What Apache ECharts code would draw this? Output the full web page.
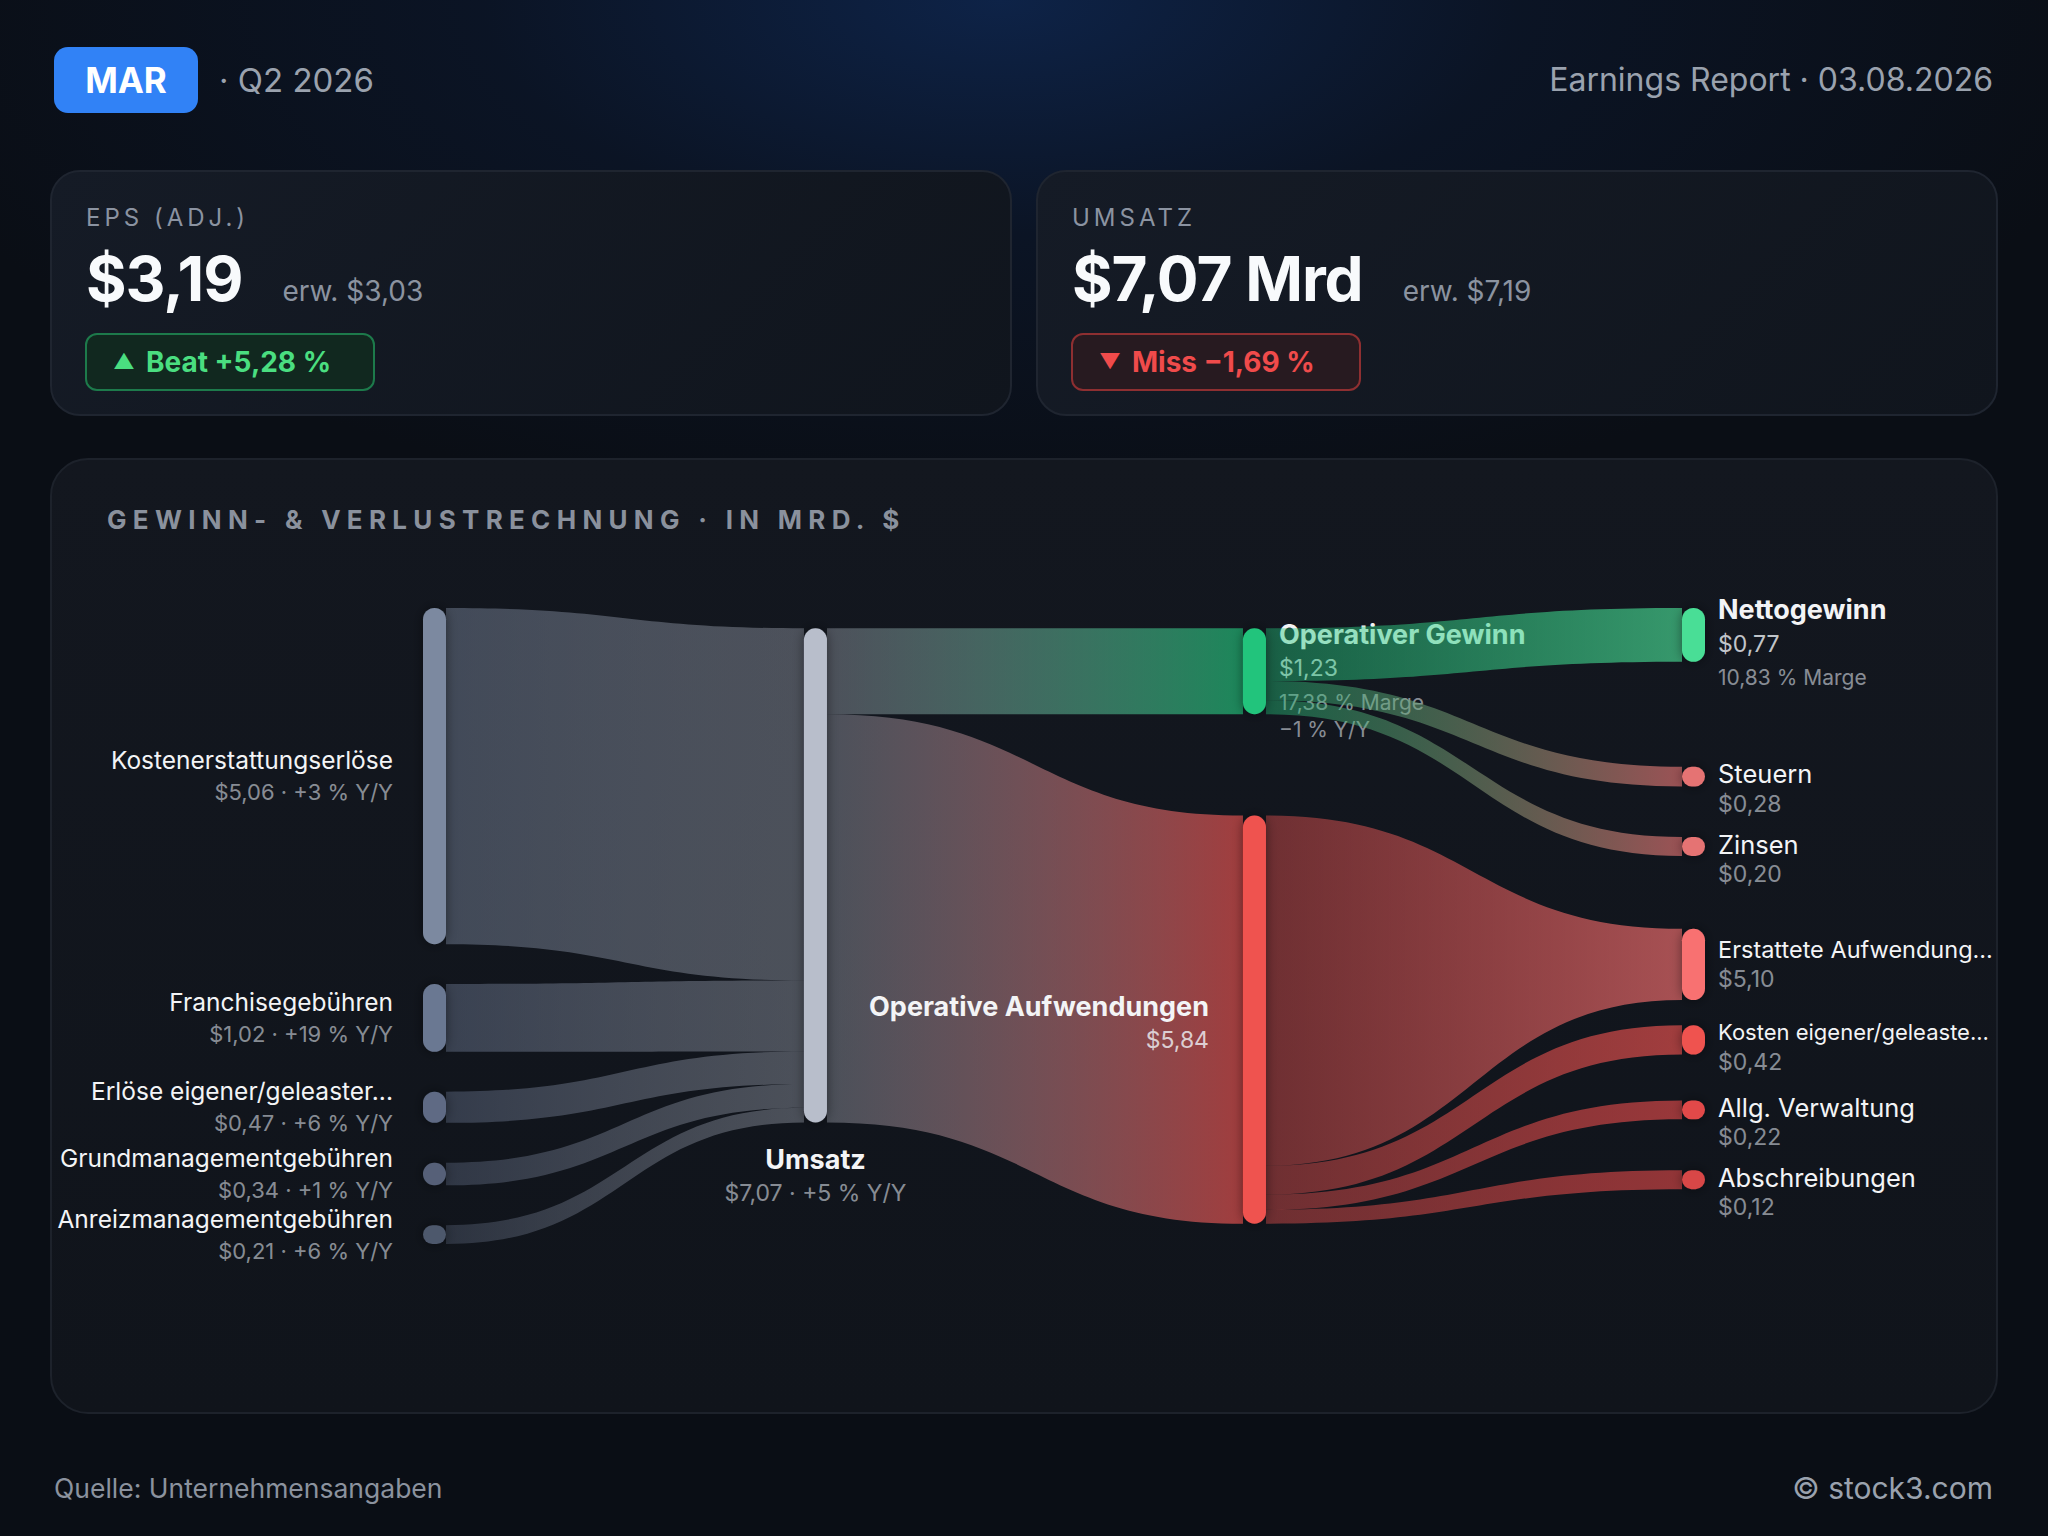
<!DOCTYPE html>
<html>
  <head>
    <meta charset="utf-8" />
    <title>MAR · Q2 2026 · GuV</title>
    <script src="https://cdn.jsdelivr.net/npm/echarts@6/dist/echarts.min.js"></script>
    <style type="text/css">
      html,
      body {
        margin: 0;
        padding: 0;
        width: 2048px;
        height: 1536px;
        overflow: hidden;
      }
      body {
        position: relative;
        font-family: Inter, "Noto Sans", "DejaVu Sans", sans-serif;
        background: radial-gradient(ellipse 1150px 520px at 1000px 0px, rgba(14, 36, 74, 0.95) 0%, rgba(12, 26, 52, 0.5) 45%, rgba(10, 14, 21, 0) 100%), #0a0e15;
      }
      .abs { position: absolute; white-space: nowrap; }
      .badge {
        left: 54px; top: 47px; width: 144px; height: 66px;
        border-radius: 14px; background: #3182f6; color: #fff;
        font-weight: 700; font-size: 35px; line-height: 66px; text-align: center;
      }
      .quarter { left: 219px; top: 57px; font-size: 33px; line-height: 46px; color: #9aa2ae; }
      .report { right: 55px; top: 58px; font-size: 32px; line-height: 44px; color: #9aa2ae; }
      .card {
        top: 170px; width: 962px; height: 246px; box-sizing: border-box;
        border-radius: 30px; border: 2px solid #1f2530;
        background: linear-gradient(135deg, #151b26 0%, #10151d 100%);
      }
      .kpi-label { position: absolute; left: 34px; top: 31px; font-size: 24px; line-height: 30px; letter-spacing: 4px; color: #8b93a1; }
      .kpi-row { position: absolute; left: 34px; top: 76px; display: flex; align-items: baseline; white-space: nowrap; }
      .kpi-value { font-size: 62px; line-height: 62px; font-weight: 700; color: #f8fafc; letter-spacing: -1px; }
      .kpi-est { margin-left: 40px; font-size: 28px; color: #8b93a0; }
      .pill {
        position: absolute; left: 33px; top: 161px; width: 290px; height: 58px; box-sizing: border-box;
        border-radius: 12px; border: 2px solid; font-size: 28px; font-weight: 700; line-height: 54px; padding-left: 26px; white-space: nowrap;
      }
      .pill .tri { font-size: 21px; display: inline-block; width: 33px; vertical-align: top; }
      .beat { border-color: #1d7a4b; background: #11281f; color: #4ade80; }
      .miss { border-color: #8e2f31; background: #271a20; color: #f04b4b; }
      .panel {
        left: 50px; top: 458px; width: 1948px; height: 956px; box-sizing: border-box;
        border-radius: 38px; border: 2px solid #1d222b;
        background: linear-gradient(180deg, #13171f 0%, #10141b 100%);
      }
      .panel-title { left: 107px; top: 504px; font-size: 26px; line-height: 32px; font-weight: 700; letter-spacing: 6.3px; color: #8a919d; }
      #flow { position: absolute; left: 50px; top: 458px; width: 1948px; height: 956px; }
      .foot-l { left: 54px; top: 1471px; font-size: 26.5px; line-height: 34px; color: #8b929e; }
      .foot-r { right: 55px; top: 1469px; font-size: 30px; line-height: 38px; color: #9aa2ae; }
    </style>
  </head>
  <body>
    <div class="abs badge">MAR</div>
    <div class="abs quarter">· Q2 2026</div>
    <div class="abs report">Earnings Report · 03.08.2026</div>

    <div class="abs card" style="left: 50px">
      <div class="kpi-label">EPS (ADJ.)</div>
      <div class="kpi-row"><span class="kpi-value" id="eps-value"></span><span class="kpi-est" id="eps-est"></span></div>
      <div class="pill beat"><span class="tri">▲</span><span id="eps-pill"></span></div>
    </div>
    <div class="abs card" style="left: 1036px">
      <div class="kpi-label">UMSATZ</div>
      <div class="kpi-row"><span class="kpi-value" id="rev-value"></span><span class="kpi-est" id="rev-est"></span></div>
      <div class="pill miss"><span class="tri">▼</span><span id="rev-pill"></span></div>
    </div>

    <div class="abs panel"></div>
    <div class="abs panel-title">GEWINN- &amp; VERLUSTRECHNUNG · IN MRD. $</div>
    <div id="flow"></div>

    <div class="abs foot-l">Quelle: Unternehmensangaben</div>
    <div class="abs foot-r">© stock3.com</div>

    <script type="text/javascript">
      // ---- Kennzahlen ----
      var epsActual = 3.19;
      var epsEstimate = 3.03;
      var epsSurprise = 5.28;
      var revActual = 7.07;
      var revEstimate = 7.19;
      var revSurprise = -1.69;

      // ---- GuV-Fluss (Mrd. $) ----
      var sourceNames = ["Kostenerstattungserlöse", "Franchisegebühren", "Erlöse eigener/geleaster...", "Grundmanagementgebühren", "Anreizmanagementgebühren"];
      var sourceValues = [5.06, 1.02, 0.47, 0.34, 0.21];
      var sourceGrowth = ["+3 %", "+19 %", "+6 %", "+1 %", "+6 %"];

      var revenueName = "Umsatz";
      var revenueValue = 7.07;
      var revenueGrowth = "+5 %";

      var operatingNames = ["Operativer Gewinn", "Operative Aufwendungen"];
      var operatingValues = [1.23, 5.84];
      var operatingMargin = "17,38 %";
      var operatingGrowth = "−1 %";

      var profitNames = ["Nettogewinn", "Steuern", "Zinsen"];
      var profitValues = [0.77, 0.28, 0.2];
      var netMargin = "10,83 %";

      var costNames = ["Erstattete Aufwendung...", "Kosten eigener/geleaste...", "Allg. Verwaltung", "Abschreibungen"];
      var costValues = [5.1, 0.42, 0.22, 0.12];

      // ---- Farben ----
      var sourceColors = ["#7c89a0", "#6b7892", "#5f6b84", "#566178", "#4e586c"];
      var revenueColor = "#b8becb";
      var operatingColors = ["#22c47b", "#ef5350"];
      var profitColors = ["#4ade96", "#e57373", "#e57373"];
      var costColors = ["#f87171", "#ef5350", "#e24a4a", "#d84646"];
      var NAME_COLOR = "#f3f4f6";
      var VALUE_GREY = "rgba(226,232,240,0.58)";
      var VALUE_LIGHT = "rgba(241,245,249,0.8)";
      var FONT = "Inter, 'Noto Sans', sans-serif";

      // ---- Layout (y in Mrd. $ on the hidden axis) ----
      var NODE_W = 23;
      var COL_X = [0, 0.3026, 0.6513, 1];
      var Y_MAX = 9.1;
      var GAP_SRC = 0.57;
      var GAP_MID = 1.45;
      var NODE_MIN = 0.27;
      var NODE_MAX = 1.02;
      var LINK_MIN = 0.2;
      var ROW = 1.0;
      var NODE_GAP = 0.36;
      var FOOT = 0.92;
      var MID_BIAS = 0.17;
      // link opacity at [source end, target end], by source column
      var LINK_ALPHA = [[0.45, 0.35], [0.35, 0.65], [0.42, 0.65]];

      function de(v) {
        return v.toFixed(2).replace(".", ",");
      }

      document.getElementById("eps-value").textContent = "$" + de(epsActual);
      document.getElementById("eps-est").textContent = "erw. $" + de(epsEstimate);
      document.getElementById("eps-pill").textContent = "Beat +" + de(epsSurprise) + " %";
      document.getElementById("rev-value").textContent = "$" + de(revActual) + " Mrd";
      document.getElementById("rev-est").textContent = "erw. $" + de(revEstimate);
      document.getElementById("rev-pill").textContent = "Miss −" + de(Math.abs(revSurprise)) + " %";

      // ---- graph ----
      var nodes = [];
      var links = [];
      function addNode(name, value, col, color, sub, side, strong) {
        nodes.push({ name: name, value: value, col: col, color: color, lines: [name].concat(sub), side: side, strong: !!strong, out: [], inn: [] });
        return nodes.length - 1;
      }
      function addLink(s, t, v) {
        var l = { s: s, t: t, v: v };
        links.push(l);
        nodes[s].out.push(l);
        nodes[t].inn.push(l);
      }

      var srcIds = sourceNames.map(function (n, i) {
        return addNode(n, sourceValues[i], 0, sourceColors[i], ["$" + de(sourceValues[i]) + " · " + sourceGrowth[i] + " Y/Y"], "left");
      });
      var revId = addNode(revenueName, revenueValue, 1, revenueColor, ["$" + de(revenueValue) + " · " + revenueGrowth + " Y/Y"], "below", true);
      var opIds = [
        addNode(operatingNames[0], operatingValues[0], 2, operatingColors[0], ["$" + de(operatingValues[0]), operatingMargin + " Marge", operatingGrowth + " Y/Y"], "right", true),
        addNode(operatingNames[1], operatingValues[1], 2, operatingColors[1], ["$" + de(operatingValues[1])], "left", true),
      ];
      var profitIds = profitNames.map(function (n, i) {
        var sub = ["$" + de(profitValues[i])];
        if (i === 0) sub.push(netMargin + " Marge");
        return addNode(n, profitValues[i], 3, profitColors[i], sub, "right", i === 0);
      });
      var costIds = costNames.map(function (n, i) {
        return addNode(n, costValues[i], 3, costColors[i], ["$" + de(costValues[i])], "right");
      });

      srcIds.forEach(function (id, i) { addLink(id, revId, sourceValues[i]); });
      opIds.forEach(function (id, i) { addLink(revId, id, operatingValues[i]); });
      profitIds.forEach(function (id, i) { addLink(opIds[0], id, profitValues[i]); });
      costIds.forEach(function (id, i) { addLink(opIds[1], id, costValues[i]); });

      // share a node's drawn height among its links, small ones get a minimum
      function split(total, list) {
        var lock = list.map(function () { return false; });
        var k = 1;
        for (var it = 0; it < 6; it++) {
          var fixed = 0, free = 0, changed = false;
          list.forEach(function (l, i) { if (lock[i]) fixed += LINK_MIN; else free += l.v; });
          k = free > 0 ? (total - fixed) / free : 1;
          list.forEach(function (l, i) {
            if (!lock[i] && l.v * k < LINK_MIN) { lock[i] = true; changed = true; }
          });
          if (!changed) break;
        }
        return list.map(function (l, i) { return lock[i] ? LINK_MIN : l.v * k; });
      }

      function layoutFlow() {
        var cols = [[], [], [], []];
        nodes.forEach(function (n) { cols[n.col].push(n); });

        // sources: squeezed so the column fills the flow height
        var s = 1;
        for (var it = 0; it < 5; it++) {
          var fixed = 0, free = 0;
          cols[0].forEach(function (n) { if (n.value * s < NODE_MIN) fixed += NODE_MIN; else free += n.value; });
          s = Math.min(1, (Y_MAX - GAP_SRC * (cols[0].length - 1) - fixed) / free);
        }
        var y = 0;
        cols[0].forEach(function (n) { n.h = Math.max(NODE_MIN, n.value * s); n.y = y; y += n.h + GAP_SRC; });

        // operating result column centred
        var tot = GAP_MID * (cols[2].length - 1);
        cols[2].forEach(function (n) { tot += n.value; });
        y = (Y_MAX - tot) / 2;
        cols[2].forEach(function (n) { n.h = n.value; n.y = y; y += n.h + GAP_MID; });

        // revenue lines up with its first output
        cols[1].forEach(function (n) { n.h = n.value; n.y = nodes[n.out[0].t].y; });

        // right column: compressed bars, spaced for their labels
        cols[3].forEach(function (n) { n.h = Math.min(NODE_MAX, Math.max(NODE_MIN, n.value)); });
        var pa = nodes[opIds[0]].out.map(function (l) { return nodes[l.t]; });
        var pb = nodes[opIds[1]].out.map(function (l) { return nodes[l.t]; });
        pa[0].c = pa[0].h / 2;
        var c = Y_MAX - FOOT;
        for (var i = pb.length - 1; i >= 0; i--) {
          pb[i].c = c;
          if (i > 0) c -= Math.max(ROW, (pb[i].h + pb[i - 1].h) / 2 + NODE_GAP);
        }
        var rest = pa.slice(1);
        var mid = (pa[0].c + pb[0].c) / 2 + MID_BIAS;
        rest.forEach(function (n, j) { n.c = mid + (j - (rest.length - 1) / 2) * ROW; });
        cols[3].forEach(function (n) { n.y = n.c - n.h / 2; });

        // link ends
        nodes.forEach(function (n) {
          var t = split(n.h, n.out), yy = n.y;
          n.out.forEach(function (l, j) { l.sy = yy; l.sh = t[j]; yy += t[j]; });
          t = split(n.h, n.inn);
          yy = n.y;
          n.inn.forEach(function (l, j) { l.ty = yy; l.th = t[j]; yy += t[j]; });
        });
      }
      layoutFlow();

      function rgba(hex, a) {
        var v = parseInt(hex.slice(1), 16);
        return "rgba(" + (v >> 16) + "," + ((v >> 8) & 255) + "," + (v & 255) + "," + a + ")";
      }

      var measureCtx = document.createElement("canvas").getContext("2d");
      function fitFont(text, weight, size, maxW) {
        while (size > 14) {
          measureCtx.font = weight + " " + size + "px Inter";
          if (measureCtx.measureText(text).width <= maxW) break;
          size -= 0.5;
        }
        return size;
      }

      function renderLink(params, api) {
        var l = links[api.value(0)];
        var a = nodes[l.s];
        var b = nodes[l.t];
        var s0 = api.coord([COL_X[a.col], l.sy]);
        var s1 = api.coord([COL_X[a.col], l.sy + l.sh]);
        var t0 = api.coord([COL_X[b.col], l.ty]);
        var t1 = api.coord([COL_X[b.col], l.ty + l.th]);
        var x0 = s0[0] + NODE_W;
        var x1 = t0[0];
        var xm = (x0 + x1) / 2;
        var d =
          "M" + x0 + "," + s0[1] +
          "C" + xm + "," + s0[1] + " " + xm + "," + t0[1] + " " + x1 + "," + t0[1] +
          "L" + x1 + "," + t1[1] +
          "C" + xm + "," + t1[1] + " " + xm + "," + s1[1] + " " + x0 + "," + s1[1] + "Z";
        var al = LINK_ALPHA[a.col];
        return {
          type: "path",
          shape: { pathData: d },
          style: {
            fill: new echarts.graphic.LinearGradient(x0, 0, x1, 0, [
              { offset: 0, color: rgba(a.color, al[0]) },
              { offset: 1, color: rgba(b.color, al[1]) },
            ], true),
          },
        };
      }

      function renderNode(params, api) {
        var n = nodes[api.value(0)];
        var p0 = api.coord([COL_X[n.col], n.y]);
        var p1 = api.coord([COL_X[n.col], n.y + n.h]);
        var h = p1[1] - p0[1];
        return {
          type: "rect",
          shape: { x: p0[0], y: p0[1], width: NODE_W, height: h, r: Math.min(NODE_W, h) / 2 },
          style: { fill: n.color, shadowBlur: 12, shadowColor: "rgba(0,0,0,0.45)" },
        };
      }

      function renderLabel(params, api) {
        var n = nodes[api.value(0)];
        var top = api.coord([COL_X[n.col], n.y]);
        var bot = api.coord([COL_X[n.col], n.y + n.h]);
        var h = bot[1] - top[1];
        var cy = (top[1] + bot[1]) / 2;
        var x, align, ys, maxW = 0;
        var nameSize = 24.5, valueSize = 22;
        if (n.side === "left") {
          x = top[0] - (n.col === 0 ? 30 : 34);
          align = "right";
          ys = n.col === 0 ? [cy - 16, cy + 16] : [cy - 13, cy + 20];
          maxW = n.col === 0 ? 338 : 0;
        } else if (n.side === "below") {
          x = top[0] + NODE_W / 2;
          align = "center";
          ys = [bot[1] + 37, bot[1] + 71];
        } else if (n.col === 2) {
          x = top[0] + NODE_W + 13;
          align = "left";
          ys = [cy - 37, cy - 3, cy + 31, cy + 58];
        } else {
          x = top[0] + NODE_W + 13;
          align = "left";
          maxW = 277;
          nameSize = 25.5;
          valueSize = 23;
          var L = n.strong ? 34 : 30;
          var w = Math.max(0, Math.min(1, (h - 19) / 26));
          var shift = (-(n.lines.length - 1) * L / 2 + (n.lines.length - 2) * 9) * w - 2.5 * (1 - w);
          ys = n.lines.map(function (t, i) { return cy + shift + i * L; });
        }
        var children = n.lines.map(function (t, i) {
          var size = i === 0 ? (n.strong ? 27 : nameSize) : i === 1 ? (n.strong ? 23 : valueSize) : 21;
          var weight = i === 0 && n.strong ? 700 : 400;
          if (i === 0 && maxW) size = fitFont(t, weight, size, maxW);
          var fill = i === 0 ? NAME_COLOR : i === 1 && n.strong && n.col >= 2 ? VALUE_LIGHT : VALUE_GREY;
          return {
            type: "text",
            x: x,
            y: ys[i],
            style: {
              text: t,
              fill: fill,
              fontSize: size,
              fontWeight: weight,
              fontFamily: FONT,
              align: align,
              verticalAlign: "middle",
            },
          };
        });
        return { type: "group", children: children };
      }

      var underIds = [];
      var overIds = [];
      nodes.forEach(function (n, i) {
        if (n.side === "right") underIds.push([i, 0]);
        else overIds.push([i, 0]);
      });

      var chart = echarts.init(document.getElementById("flow"), null, { renderer: "svg" });
      chart.setOption({
        animation: false,
        grid: { left: 373, right: 316, top: 150, bottom: 170 },
        xAxis: { type: "value", min: 0, max: 1, show: false },
        yAxis: { type: "value", min: 0, max: Y_MAX, inverse: true, show: false },
        series: [
          { type: "custom", z: 1, silent: true, data: underIds, renderItem: renderLabel },
          { type: "custom", z: 2, silent: true, data: links.map(function (l, i) { return [i, 0]; }), renderItem: renderLink },
          { type: "custom", z: 3, silent: true, data: nodes.map(function (n, i) { return [i, 0]; }), renderItem: renderNode },
          { type: "custom", z: 4, silent: true, data: overIds, renderItem: renderLabel },
        ],
      });
    </script>
  </body>
</html>
